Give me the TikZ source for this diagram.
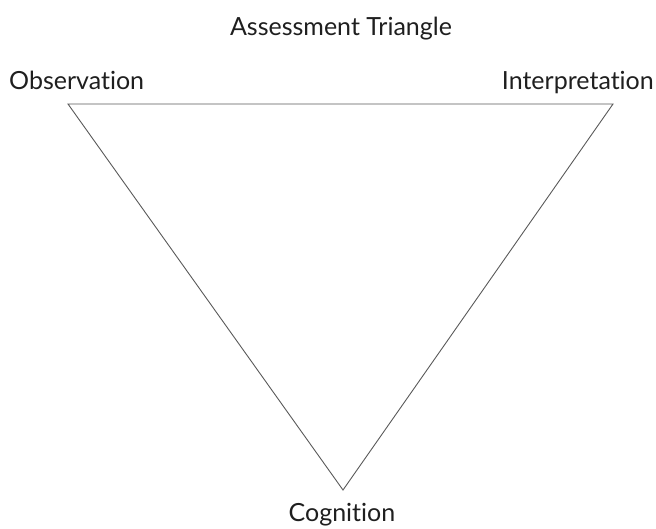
\documentclass[tikz,border=0pt]{standalone}
\usepackage{fontspec}
\setmainfont[Ligatures={NoCommon}]{Lato}
\begin{document}
\begin{tikzpicture}[x=1pt,y=-1pt,
  lbl/.style={inner sep=0pt,font=\fontsize{25}{28}\selectfont,text=black!88},
  edge/.style={draw=black!65,line width=0.9pt}]
\useasboundingbox (0,0) rectangle (656,529);
\coordinate (O) at (68,104);
\coordinate (I) at (613,104);
\coordinate (C) at (343,490);
\draw[edge] (O) -- (I) -- (C) -- cycle;
\node[lbl,anchor=base] (title) at (341,36) {Assessment Triangle};
\node[lbl,anchor=base west] (obs) at (9,90) {Observation};
\node[lbl,anchor=base east] (int) at (654,90) {Interpretation};
\node[lbl,anchor=base] (cog) at (342,521) {Cognition};
\end{tikzpicture}
\end{document}
